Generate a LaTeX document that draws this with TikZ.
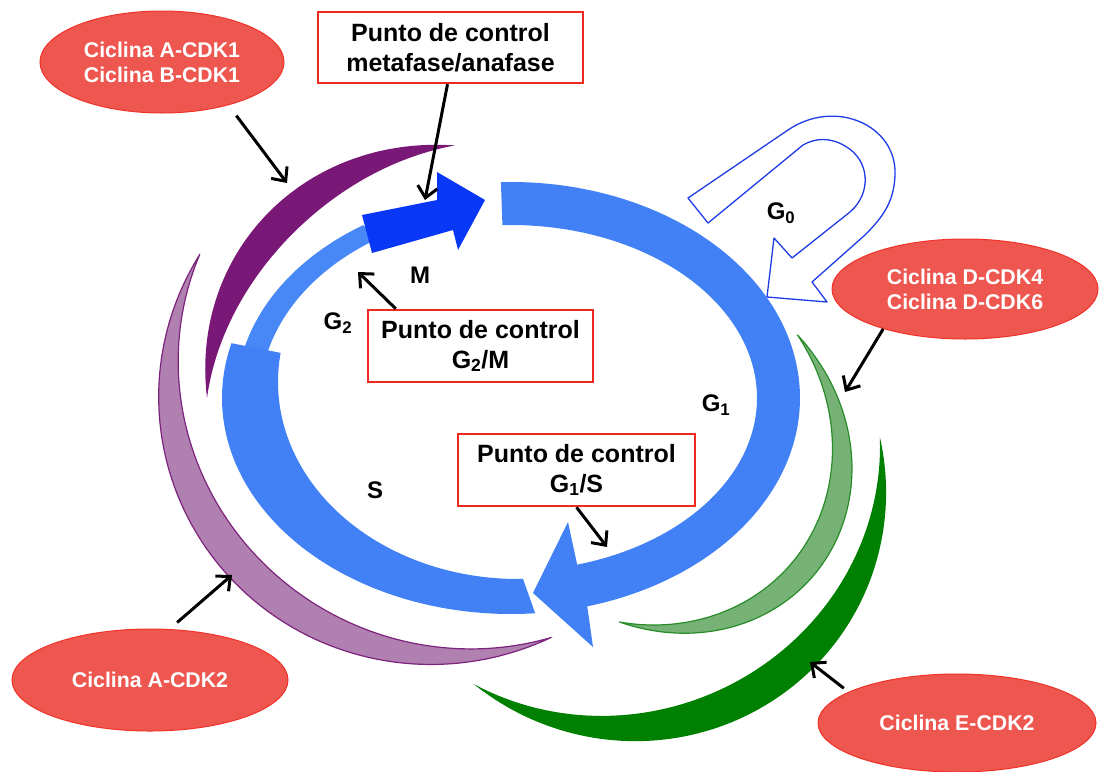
\documentclass[tikz,border=0pt]{standalone}
\usepackage{fontspec}
\setmainfont{Liberation Sans}
\usetikzlibrary{shapes.geometric,arrows.meta}
\definecolor{ring}{RGB}{66,128,246}
\definecolor{ringtwo}{RGB}{72,136,246}
\definecolor{mphase}{RGB}{8,56,245}
\definecolor{purpdark}{RGB}{122,24,120}
\definecolor{purplight}{RGB}{176,128,176}
\definecolor{purpedge}{RGB}{125,35,125}
\definecolor{greenlight}{RGB}{118,178,118}
\definecolor{greenedge}{RGB}{40,140,40}
\definecolor{greendark}{RGB}{0,128,0}
\definecolor{cyclin}{RGB}{238,86,80}
\definecolor{cyclinedge}{RGB}{240,50,40}
\definecolor{chkedge}{RGB}{240,40,30}
\definecolor{gzero}{RGB}{30,60,230}

% tapered band along an elliptic arc:
% centre x, centre y, half-axis a, half-axis b, start angle, end angle, max width, rotation
\newcommand\crescentband[8]{%
  plot[domain=#5:#6, samples=110, variable=\t]
   ({#1 + (#3+0.5*#7*sin(180*((\t-#5)/(#6-#5))))*cos(\t)*cos(#8) - (#4+0.5*#7*sin(180*((\t-#5)/(#6-#5))))*sin(\t)*sin(#8)},
    {#2 + (#3+0.5*#7*sin(180*((\t-#5)/(#6-#5))))*cos(\t)*sin(#8) + (#4+0.5*#7*sin(180*((\t-#5)/(#6-#5))))*sin(\t)*cos(#8)})
  -- plot[domain=#6:#5, samples=110, variable=\t]
   ({#1 + (#3-0.5*#7*sin(180*((\t-#5)/(#6-#5))))*cos(\t)*cos(#8) - (#4-0.5*#7*sin(180*((\t-#5)/(#6-#5))))*sin(\t)*sin(#8)},
    {#2 + (#3-0.5*#7*sin(180*((\t-#5)/(#6-#5))))*cos(\t)*sin(#8) + (#4-0.5*#7*sin(180*((\t-#5)/(#6-#5))))*sin(\t)*cos(#8)})
  -- cycle}

\begin{document}
\begin{tikzpicture}[x=1pt,y=-1pt,
  cyc/.style={ellipse, fill=cyclin, draw=cyclinedge, line width=1pt, text=white,
    font=\fontsize{21.3}{25}\selectfont\bfseries, align=center, inner sep=0pt},
  chk/.style={rectangle, draw=chkedge, fill=white, line width=2.5pt,
    font=\fontsize{25}{30}\selectfont\bfseries, align=center, inner sep=0pt},
  lbl/.style={font=\fontsize{24}{28}\selectfont\bfseries, inner sep=0pt},
  link/.style={line width=3pt, -{Straight Barb[length=11pt,width=20pt]}}
]
\useasboundingbox (0,0) rectangle (1099,771);
\fill[white] (0,0) rectangle (1099,771);

% cyclin activity bands
\filldraw[fill=purplight, draw=purpedge, line width=1.2pt] \crescentband{450}{380}{281}{276}{207}{69}{34}{0};
\fill[purpdark] \crescentband{470}{400}{263}{255}{180.5}{266.7}{32}{0};
\filldraw[fill=greenlight, draw=greenedge, line width=1.2pt] \crescentband{650}{440}{200}{180}{-76.8}{62}{25}{40};
\fill[greendark] \crescentband{620}{470}{262}{258}{-7.4}{124}{35}{0};

% cell cycle ring: G2, S, G1 and M
\fill[ringtwo]
  plot[domain=192:237.5, samples=60, variable=\t] ({511+275*cos(\t)},{398+205*sin(\t)})
  -- plot[domain=237.5:192, samples=60, variable=\t] ({511+251*cos(\t)},{398+188*sin(\t)})
  -- cycle;
\fill[ring]
  plot[domain=194.7:85.2, samples=100, variable=\t] ({511+289*cos(\t)},{398+216*sin(\t)})
  -- plot[domain=88.8:188.5, samples=100, variable=\t] ({518+240*cos(\t)},{382+197*sin(\t)})
  -- cycle;
\fill[ring]
  plot[domain=-92:74.7, samples=140, variable=\t] ({511+289*cos(\t)},{398+216*sin(\t)})
  -- (593,647) -- (533,593) -- (568,522)
  -- plot[domain=74.4:-92, samples=140, variable=\t] ({511+246*cos(\t)},{398+173*sin(\t)})
  -- cycle;
\fill[mphase] (362,215) -- (437,200) -- (437,172) -- (485,200) -- (458,250) -- (453,230) -- (372,253) -- cycle;

% G0 exit loop
\filldraw[draw=gzero, fill=white, line width=1.3pt, line join=round]
  (688,198) -- (788,130) .. controls (835,98) and (897,125) .. (895,175)
  .. controls (894,200) and (885,215) .. (865,235) -- (812,282) -- (827,302)
  -- (767,297) -- (774,238) -- (792,258) -- (850,212)
  .. controls (872,193) and (870,160) .. (845,146)
  .. controls (830,137) and (815,138) .. (803,145) -- (708,223) -- cycle;

% phase labels
\node[lbl] (lM) at (420,275) {M};
\node[lbl] (lG2) at (338,323) {G\textsubscript{2}};
\node[lbl] (lG1) at (716,405) {G\textsubscript{1}};
\node[lbl] (lS) at (375,490) {S};
\node[lbl] (lG0) at (781,213) {G\textsubscript{0}};

% checkpoints
\node[chk, minimum width=265pt, minimum height=71pt] (b1) at (450.5,47.5) {Punto de control\\metafase/anafase};
\node[chk, minimum width=225pt, minimum height=72pt] (b2) at (480.5,346) {Punto de control\\G\textsubscript{2}/M};
\node[chk, minimum width=237pt, minimum height=72pt] (b3) at (576.5,470) {Punto de control\\G\textsubscript{1}/S};

% cyclin-CDK complexes
\node[cyc, minimum width=244pt, minimum height=102pt] (e1) at (162,62) {Ciclina A-CDK1\\Ciclina B-CDK1};
\node[cyc, minimum width=266pt, minimum height=100pt] (e2) at (965,289) {Ciclina D-CDK4\\Ciclina D-CDK6};
\node[cyc, minimum width=276pt, minimum height=102pt] (e3) at (150,680) {Ciclina A-CDK2};
\node[cyc, minimum width=278pt, minimum height=98pt] (e4) at (957,723) {Ciclina E-CDK2};

% arrow targets
\coordinate (tA) at (287,183);
\coordinate (tB) at (425,200);
\coordinate (tC) at (358,272);
\coordinate (tD) at (607,547);
\coordinate (tE) at (845,392);
\coordinate (tF) at (232,575);
\coordinate (tG) at (810,662);

\draw[link, shorten <=13pt] (e1.-33) -- (tA);
\draw[link] (b1.south) ++(-3,0) -- (tB);
\draw[link] ([xshift=29pt]b2.north west) -- (tC);
\draw[link] (b3.south) -- (tD);
\draw[link] (e2.206) -- (tE);
\draw[link, shorten <=10pt] (e3.69) -- (tF);
\draw[link, shorten <=6pt] (e4.164) -- (tG);
\end{tikzpicture}
\end{document}
